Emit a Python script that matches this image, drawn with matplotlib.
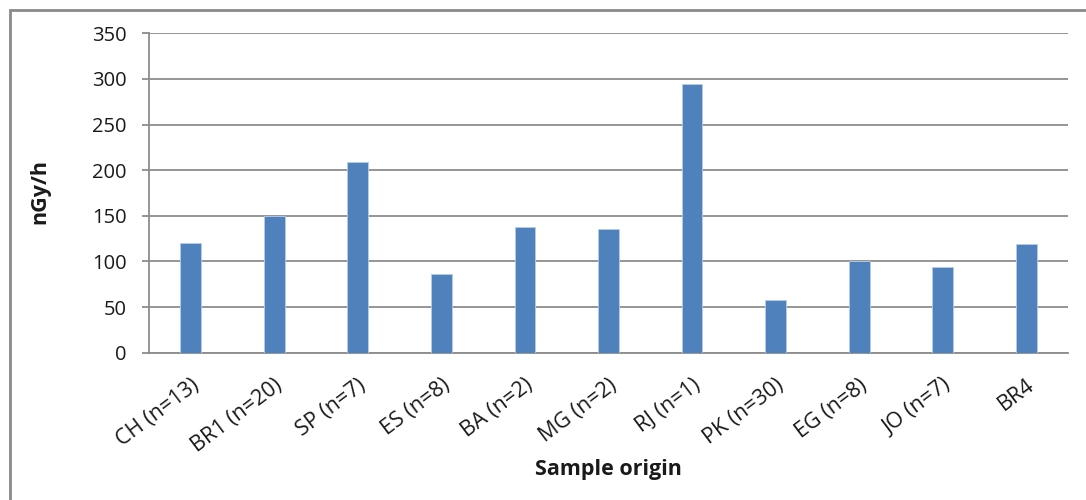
import matplotlib
matplotlib.use("Agg")
import matplotlib.pyplot as plt
from matplotlib.patches import Rectangle
from matplotlib import transforms
import numpy as np

# data
origins = ["CH (n=13)", "BR1 (n=20)", "SP (n=7)", "ES (n=8)", "BA (n=2)", "MG (n=2)",
           "RJ (n=1)", "PK (n=30)", "EG (n=8)", "JO (n=7)", "BR4"]
dose_rate = [120, 150, 209, 86, 138, 136, 294, 58, 101, 94, 119]
y_ticks = [0, 50, 100, 150, 200, 250, 300, 350]

plt.rcParams["font.family"] = ["Open Sans", "DejaVu Sans"]
txt_color = "#1a1a1a"
grid_color = "#8c8c8c"

fig = plt.figure(figsize=(10.86, 5.00), dpi=100)
ax = fig.add_axes([149/1086, 1 - 352.7/500, (1068 - 149)/1086, (352.7 - 33.3)/500])

x = np.arange(len(origins))
ax.bar(x, dose_rate, width=0.25, color="#4f81bd", edgecolor="#b9cde5", linewidth=0.6, zorder=3)

ax.set_xlim(-0.5, len(origins) - 0.5)
ax.set_ylim(0, 350)
ax.set_yticks(y_ticks)
ax.yaxis.grid(True, color=grid_color, linewidth=1.3, zorder=0)
for s in ["top", "right"]:
    ax.spines[s].set_visible(False)
ax.spines["left"].set_color(grid_color)
ax.spines["bottom"].set_color(grid_color)
ax.spines["left"].set_linewidth(1.3)
ax.spines["bottom"].set_linewidth(1.3)

ax.tick_params(axis="y", length=5, width=1.3, color=grid_color, pad=11,
               labelsize=14.5, labelcolor=txt_color)
ax.set_xticks(x)
ax.set_xticklabels(origins, rotation=37, ha="right", va="center",
                   rotation_mode="anchor", fontsize=15.5, color=txt_color)
ax.tick_params(axis="x", length=0, pad=22)
offset = transforms.ScaledTranslation(6/100, 0, fig.dpi_scale_trans)
for lab in ax.get_xticklabels():
    lab.set_transform(lab.get_transform() + offset)

fig.text(608.5/1086, 1 - 469/500, "Sample origin", ha="center", va="center",
         fontsize=15.5, fontweight="bold", color=txt_color)
fig.text(40/1086, 1 - 192/500, "nGy/h", ha="center", va="center", rotation=90,
         fontsize=15.5, fontweight="bold", color=txt_color)

# outer chart border
fig.patches.append(Rectangle((10/1086, -0.05), 1.2, 1 - 10/500 + 0.05, transform=fig.transFigure,
                             fill=False, edgecolor="#8a8a8a", linewidth=2))

fig.savefig("out.png", dpi=100, facecolor="white")
